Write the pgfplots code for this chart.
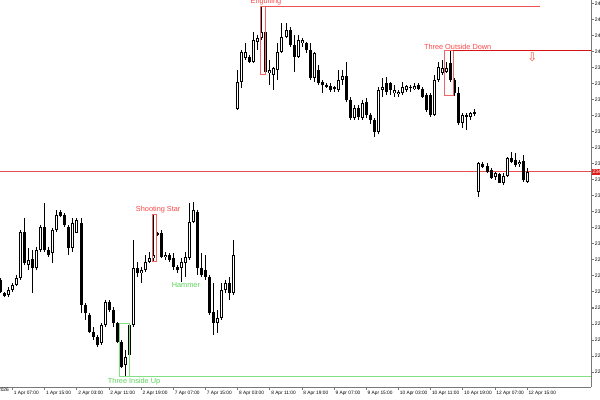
\documentclass[border=0pt]{standalone}
\usepackage{pgfplots}
\pgfplotsset{compat=1.18}
\usepackage{pgfplotstable}
\usepackage{fontspec}
\setmainfont{Liberation Sans}
\newfontfamily\dejavu{DejaVu Sans}
\definecolor{axisgray}{RGB}{120,120,120}
\definecolor{patred}{RGB}{250,70,70}
\definecolor{rectred}{RGB}{240,100,100}
\definecolor{lineredA}{RGB}{240,80,80}
\definecolor{lineredB}{RGB}{215,20,20}
\definecolor{pricered}{RGB}{232,80,80}
\definecolor{pricebox}{RGB}{220,30,30}
\definecolor{patgreen}{RGB}{90,210,90}
\definecolor{greenline}{RGB}{130,225,130}
\definecolor{arrowred}{RGB}{240,90,60}

% hourly candles: index, open, high, low, close
\pgfplotstableread{
k o h l c
0 2286.0 2286.8 2279.3 2280.2
1 2279.7 2280.2 2277.3 2278.0
2 2278.5 2282.3 2277.7 2281.0
3 2281.0 2284.3 2280.2 2283.5
4 2283.5 2288.5 2283.0 2286.8
5 2286.8 2311.0 2286.0 2310.2
6 2310.2 2316.8 2293.5 2294.3
7 2293.5 2301.8 2291.0 2296.0
8 2296.3 2301.0 2279.3 2291.8
9 2291.8 2302.7 2291.0 2301.0
10 2301.0 2313.5 2300.2 2312.7
11 2312.7 2324.3 2300.2 2301.0
12 2301.0 2302.7 2297.7 2298.5
13 2299.3 2311.8 2294.3 2311.0
14 2311.0 2321.0 2310.2 2318.5
15 2320.2 2321.0 2317.7 2318.0
16 2318.5 2319.3 2312.7 2313.5
17 2312.7 2313.5 2298.5 2301.8
18 2301.8 2316.8 2300.2 2314.3
19 2309.3 2316.8 2309.3 2316.0
20 2314.3 2316.8 2269.3 2273.5
21 2273.5 2274.3 2266.0 2269.3
22 2268.5 2269.3 2259.3 2260.2
23 2260.2 2262.7 2256.0 2257.7
24 2257.7 2258.5 2252.7 2253.5
25 2254.3 2264.3 2253.5 2263.5
26 2263.5 2276.0 2262.7 2275.2
27 2275.2 2276.0 2270.2 2271.0
28 2271.0 2272.7 2262.7 2264.3
29 2264.3 2265.2 2254.3 2255.2
30 2255.2 2256.0 2241.8 2242.7
31 2243.5 2251.0 2237.7 2247.7
32 2248.5 2264.3 2237.7 2263.5
33 2263.5 2306.0 2262.7 2291.8
34 2291.8 2295.2 2287.7 2289.3
35 2289.3 2292.7 2284.3 2291.0
36 2291.0 2298.5 2290.2 2295.2
37 2295.2 2300.2 2294.3 2296.8
38 2296.8 2318.5 2295.2 2298.5
39 2309.3 2310.0 2308.0 2309.0
40 2309.3 2311.0 2296.8 2297.7
41 2297.3 2300.2 2296.0 2298.5
42 2298.5 2299.3 2295.2 2296.0
43 2296.8 2299.3 2291.0 2292.7
44 2292.7 2293.5 2289.3 2291.0
45 2291.8 2296.8 2285.2 2295.2
46 2294.3 2300.2 2287.7 2297.7
47 2296.8 2324.3 2296.0 2315.2
48 2315.2 2325.2 2314.3 2321.0
49 2320.2 2321.0 2288.5 2291.8
50 2291.8 2299.3 2287.7 2288.5
51 2291.0 2298.5 2286.0 2287.7
52 2287.7 2288.5 2268.5 2269.3
53 2270.2 2284.3 2258.5 2264.3
54 2264.3 2271.0 2259.3 2266.8
55 2266.8 2284.3 2266.0 2281.0
56 2281.0 2286.0 2279.3 2284.3
57 2284.3 2287.7 2276.0 2279.3
58 2279.3 2306.0 2278.5 2298.5
59 2371.3 2391.0 2371.0 2385.2
60 2385.2 2401.0 2381.8 2400.2
61 2396.8 2404.3 2396.0 2400.2
62 2397.3 2398.5 2394.3 2395.2
63 2395.2 2410.2 2394.3 2406.0
64 2405.2 2408.5 2401.0 2406.8
65 2406.8 2422.8 2406.0 2409.8
66 2410.2 2410.2 2388.5 2390.2
67 2389.3 2396.0 2383.5 2391.0
68 2388.5 2392.7 2381.0 2391.8
69 2391.0 2404.3 2386.0 2400.2
70 2400.2 2414.3 2399.3 2407.7
71 2407.7 2414.3 2406.8 2411.0
72 2411.0 2412.7 2402.7 2403.5
73 2403.5 2408.5 2390.2 2397.7
74 2397.7 2408.5 2396.8 2406.0
75 2404.3 2406.8 2402.7 2406.0
76 2404.3 2405.2 2399.3 2401.0
77 2401.0 2404.3 2386.0 2386.8
78 2386.8 2400.2 2385.2 2399.3
79 2391.0 2393.5 2383.5 2384.3
80 2385.2 2386.0 2379.3 2383.5
81 2383.5 2384.3 2381.8 2382.3
82 2383.0 2384.3 2380.2 2381.0
83 2382.3 2383.0 2380.2 2381.3
84 2381.0 2391.0 2380.2 2386.0
85 2386.0 2391.0 2383.5 2388.0
86 2388.0 2395.2 2375.2 2376.0
87 2376.0 2377.7 2366.0 2366.8
88 2366.8 2373.5 2366.0 2371.8
89 2371.8 2373.5 2366.0 2367.7
90 2366.8 2376.0 2366.0 2374.3
91 2375.2 2376.8 2366.8 2368.5
92 2368.5 2369.3 2364.0 2366.0
93 2366.0 2366.8 2357.5 2360.0
94 2360.0 2382.7 2359.0 2381.0
95 2381.0 2386.8 2377.7 2382.7
96 2384.3 2387.7 2378.5 2380.2
97 2384.3 2385.2 2378.5 2381.0
98 2379.3 2383.5 2377.7 2381.0
99 2379.0 2381.0 2377.7 2380.2
100 2379.3 2385.2 2378.5 2382.7
101 2381.0 2383.5 2380.2 2383.0
102 2381.8 2383.5 2380.2 2382.7
103 2381.3 2384.3 2381.0 2383.0
104 2383.5 2384.3 2381.0 2381.3
105 2381.3 2382.7 2376.8 2377.7
106 2378.5 2379.3 2370.2 2371.0
107 2378.5 2379.3 2367.7 2368.5
108 2368.5 2388.5 2368.0 2386.0
109 2386.0 2395.2 2385.2 2392.7
110 2389.3 2396.0 2388.5 2391.8
111 2390.2 2395.2 2389.3 2391.8
112 2394.3 2400.7 2385.2 2386.0
113 2386.0 2386.8 2378.2 2379.3
114 2379.3 2382.7 2363.5 2364.3
115 2364.3 2369.3 2361.8 2368.5
116 2368.5 2369.3 2361.0 2367.3
117 2367.7 2370.2 2366.0 2369.3
118 2369.3 2371.3 2368.0 2370.2
119 2330.2 2345.2 2327.7 2344.3
120 2344.0 2345.2 2341.8 2342.7
121 2343.0 2344.3 2339.3 2340.2
122 2341.0 2341.8 2336.3 2336.8
123 2337.7 2340.2 2336.0 2339.3
124 2339.0 2339.3 2334.3 2334.7
125 2334.7 2339.3 2333.5 2338.0
126 2338.0 2347.7 2337.7 2346.8
127 2346.8 2350.2 2344.3 2345.2
128 2346.0 2349.3 2342.7 2343.5
129 2344.0 2346.0 2342.7 2345.2
130 2345.7 2348.5 2335.2 2336.0
131 2335.2 2341.8 2334.3 2340.0
}\candles

\begin{document}
\begin{tikzpicture}
\begin{axis}[
  at={(0,0)}, anchor=south west, scale only axis,
  width=443.25pt, height=290.25pt,
  xmin=-0.15, xmax=146.87, ymin=2232.5, ymax=2426,
  axis x line*=bottom, axis y line*=right,
  axis line style={-, draw=axisgray, line width=0.75pt},
  tick align=outside, major tick length=2.25pt,
  tick style={axisgray, line width=0.75pt},
  clip mode=individual,
  xtick={3,11,...,131},
  xticklabels={1 Apr 07:00, 1 Apr 15:00, 2 Apr 03:00, 2 Apr 11:00, 2 Apr 19:00,
    7 Apr 07:00, 7 Apr 15:00, 8 Apr 03:00, 8 Apr 11:00, 8 Apr 19:00,
    9 Apr 07:00, 9 Apr 15:00, 10 Apr 03:00, 10 Apr 11:00, 10 Apr 19:00,
    12 Apr 07:00, 12 Apr 15:00},
  xticklabel style={anchor=north west, inner sep=0pt, xshift=0.8pt, yshift=-0.5pt,
    font=\fontsize{3.6}{4}\selectfont},
  ytick={2240,2248,...,2424},
  yticklabel style={anchor=west, inner sep=0pt, xshift=0.5pt,
    font=\fontsize{3.8}{4}\selectfont,
    /pgf/number format/fixed, /pgf/number format/fixed zerofill,
    /pgf/number format/precision=2, /pgf/number format/1000 sep={},
    /pgf/number format/assume math mode=true},
  candle/.style={draw=none, mark=none, forget plot,
    error bars/.cd, y dir=both, y explicit, error mark=none},
]
% bid line
\addplot[pricered, line width=0.75pt] coordinates {(-0.15,2340) (146.87,2340)};

% wicks
\addplot[candle, error bar style={draw=black, line width=0.75pt}]
  table[x=k, y expr={(\thisrow{h}+\thisrow{l})/2}, y error expr={(\thisrow{h}-\thisrow{l})/2}] {\candles};
% bodies
\addplot[candle, error bar style={draw=black, line width=2.25pt}]
  table[x=k, y expr={(\thisrow{o}+\thisrow{c})/2}, y error expr={max(abs(\thisrow{o}-\thisrow{c})/2,0.3)}] {\candles};
% hollow inside of rising candles
\addplot[candle, error bar style={draw=white, line width=0.75pt}]
  table[x=k, y expr={(\thisrow{o}+\thisrow{c})/2},
    y error expr={ifthenelse(\thisrow{c}>\thisrow{o}, max((\thisrow{c}-\thisrow{o})/2-0.5,0), 0)}] {\candles};

% pattern marks
\draw[rectred, line width=0.75pt] (axis cs:64.7,2422.8) rectangle (axis cs:65.85,2388.5);
\draw[lineredA, line width=0.75pt] (axis cs:65.85,2422.8) -- (axis cs:134.2,2422.8);
\node[patred, font=\fontsize{5.5}{6}\selectfont] at (axis cs:66.0,2425.0) {Engulfing};

\draw[rectred, line width=0.75pt] (axis cs:110.4,2400.7) rectangle (axis cs:112.6,2378.2);
\draw[lineredB, line width=0.75pt] (axis cs:112.6,2400.7) -- (axis cs:146.87,2400.7);
\node[patred, font=\fontsize{5.5}{6}\selectfont] at (axis cs:113.7,2402.6) {Three Outside Down};
\node[arrowred, font=\dejavu\fontsize{9}{9}\selectfont] at (axis cs:132.3,2397.2) {⇩};

\draw[rectred, line width=0.75pt] (axis cs:37.84,2318.5) rectangle (axis cs:38.83,2295.2);
\node[patred, font=\fontsize{5.5}{6}\selectfont] at (axis cs:39.2,2321.0) {Shooting Star};

\node[patgreen, font=\fontsize{5.5}{6}\selectfont] at (axis cs:46.1,2283.5) {Hammer};

\draw[greenline, line width=0.75pt] (axis cs:29.7,2264.3) rectangle (axis cs:32.0,2237.7);
\draw[greenline, line width=0.75pt] (axis cs:32.0,2237.7) -- (axis cs:146.87,2237.7);
\node[patgreen, font=\fontsize{5.5}{6}\selectfont] at (axis cs:33.2,2235.2) {Three Inside Up};

% price tag and first date on the scales
\node[anchor=west, fill=pricebox, text=white, inner sep=0.6pt, xshift=0.4pt,
  font=\fontsize{3.8}{4}\selectfont] at (axis cs:146.87,2340) {2340.00};
\node[anchor=north east, inner sep=0pt, yshift=-0.5pt, font=\fontsize{3.6}{4}\selectfont]
  at (axis cs:2.1,2232.5) {1 Apr 2026};
\end{axis}
\pgfresetboundingbox
\path[use as bounding box] (0,-9.75pt) rectangle (450pt,290.25pt);
\end{tikzpicture}
\end{document}
